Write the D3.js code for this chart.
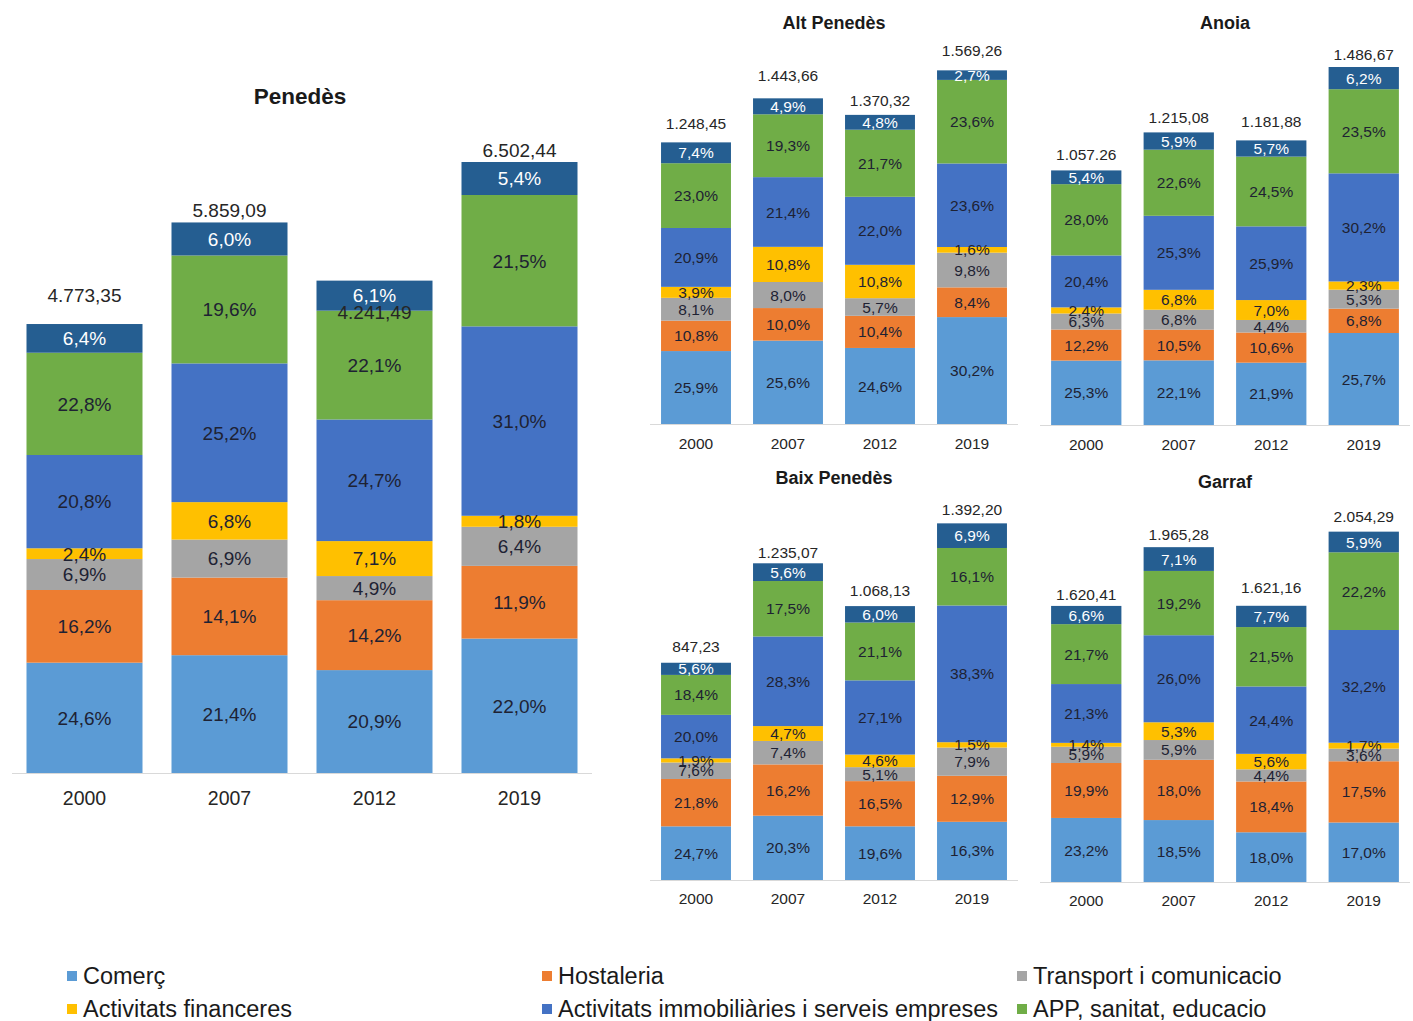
<!DOCTYPE html>
<html><head><meta charset="utf-8">
<script src="https://cdn.jsdelivr.net/npm/d3@7"></script>
<style>body{margin:0;background:#fff}svg{display:block}text{font-family:"Liberation Sans",Arial,sans-serif}</style>
</head><body>
<svg id="c" width="1413" height="1021"></svg>
<script>
const years = ["2000", "2007", "2012", "2019"];
const sectors = ["Comerç", "Hostaleria", "Transport i comunicacio", "Activitats financeres",
  "Activitats immobiliàries i serveis empreses", "APP, sanitat, educacio", "Altres"];
const sectorColors = ["#5b9bd5", "#ed7d31", "#a5a5a5", "#ffc000", "#4472c4", "#70ad47", "#255e91"];
const legendSectors = ["Comerç", "Hostaleria", "Transport i comunicacio", "Activitats financeres",
  "Activitats immobiliàries i serveis empreses", "APP, sanitat, educacio"];

// Penedès (percent per sector, bottom to top)
const penedesPct = [
  [24.6, 16.2, 6.9, 2.4, 20.8, 22.8, 6.4],
  [21.4, 14.1, 6.9, 6.8, 25.2, 19.6, 6.0],
  [20.9, 14.2, 4.9, 7.1, 24.7, 22.1, 6.1],
  [22.0, 11.9, 6.4, 1.8, 31.0, 21.5, 5.4]
];
const penedesTotals = [4773.35, 5859.09, 4241.49, 6502.44];
const penedesBarHeights = [4773.35, 5859.09, 5240, 6502.44]; // 2012 bar drawn taller than its label
const penedesLabels = ["4.773,35", "5.859,09", "4.241,49", "6.502,44"];

const altPct = [
  [25.9, 10.8, 8.1, 3.9, 20.9, 23.0, 7.4],
  [25.6, 10.0, 8.0, 10.8, 21.4, 19.3, 4.9],
  [24.6, 10.4, 5.7, 10.8, 22.0, 21.7, 4.8],
  [30.2, 8.4, 9.8, 1.6, 23.6, 23.6, 2.7]
];
const altTotals = [1248.45, 1443.66, 1370.32, 1569.26];
const altLabels = ["1.248,45", "1.443,66", "1.370,32", "1.569,26"];

const anoiaPct = [
  [25.3, 12.2, 6.3, 2.4, 20.4, 28.0, 5.4],
  [22.1, 10.5, 6.8, 6.8, 25.3, 22.6, 5.9],
  [21.9, 10.6, 4.4, 7.0, 25.9, 24.5, 5.7],
  [25.7, 6.8, 5.3, 2.3, 30.2, 23.5, 6.2]
];
const anoiaTotals = [1057.26, 1215.08, 1181.88, 1486.67];
const anoiaLabels = ["1.057.26", "1.215,08", "1.181,88", "1.486,67"];

const baixPct = [
  [24.7, 21.8, 7.6, 1.9, 20.0, 18.4, 5.6],
  [20.3, 16.2, 7.4, 4.7, 28.3, 17.5, 5.6],
  [19.6, 16.5, 5.1, 4.6, 27.1, 21.1, 6.0],
  [16.3, 12.9, 7.9, 1.5, 38.3, 16.1, 6.9]
];
const baixTotals = [847.23, 1235.07, 1068.13, 1392.20];
const baixLabels = ["847,23", "1.235,07", "1.068,13", "1.392,20"];

const garrafPct = [
  [23.2, 19.9, 5.9, 1.4, 21.3, 21.7, 6.6],
  [18.5, 18.0, 5.9, 5.3, 26.0, 19.2, 7.1],
  [18.0, 18.4, 4.4, 5.6, 24.4, 21.5, 7.7],
  [17.0, 17.5, 3.6, 1.7, 32.2, 22.2, 5.9]
];
const garrafTotals = [1620.41, 1965.28, 1621.16, 2054.29];
const garrafLabels = ["1.620,41", "1.965,28", "1.621,16", "2.054,29"];

const svg = d3.select("#c");
const fmtPct = v => v.toFixed(1).replace(".", ",") + "%";

function panel(o) {
  const g = svg.append("g");
  const x = d3.scaleBand().domain(years).range([o.x0, o.x1]).paddingInner(o.pin).paddingOuter(o.pout);
  const y = d3.scaleLinear().domain([0, o.refMax]).range([o.base, o.refTop]);
  const heights = o.bars || o.totals;
  years.forEach((yr, i) => {
    const tot = heights[i];
    let cum = 0;
    o.pct[i].forEach((p, s) => {
      const v0 = tot * cum / 100, v1 = tot * (cum + p) / 100;
      cum += p;
      const yTop = y(v1), yBot = y(v0);
      g.append("rect").attr("x", x(yr)).attr("width", x.bandwidth())
        .attr("y", yTop).attr("height", Math.max(0, yBot - yTop)).attr("fill", sectorColors[s]);
    });
    cum = 0;
    o.pct[i].forEach((p, s) => {
      const v0 = tot * cum / 100, v1 = tot * (cum + p) / 100;
      cum += p;
      g.append("text").attr("x", x(yr) + x.bandwidth() / 2).attr("y", (y(v0) + y(v1)) / 2)
        .attr("dy", "0.36em").attr("text-anchor", "middle")
        .attr("font-size", o.fs).attr("fill", s === 6 ? "#ffffff" : "#1e2233")
        .text(fmtPct(p));
    });
    // total label (center offset above bar top; negative = inside bar)
    const topY = y(tot);
    g.append("text").attr("x", x(yr) + x.bandwidth() / 2)
      .attr("y", topY - o.totOff[i]).attr("dy", "0.36em")
      .attr("text-anchor", "middle").attr("font-size", o.tfs).attr("fill", "#262626")
      .text(o.labels[i]);
    g.append("text").attr("x", x(yr) + x.bandwidth() / 2).attr("y", o.base + o.xDy)
      .attr("text-anchor", "middle").attr("font-size", o.xfs).attr("fill", "#262626").text(yr);
  });
  g.append("line").attr("x1", o.x0).attr("x2", o.x1).attr("y1", o.base + 0.5).attr("y2", o.base + 0.5)
    .attr("stroke", "#d9d9d9").attr("stroke-width", 1);
  g.append("text").attr("x", o.tx).attr("y", o.ty).attr("text-anchor", "middle")
    .attr("font-size", o.titleFs).attr("font-weight", "bold").attr("fill", "#1a1a1a").text(o.title);
}

panel({title: "Penedès", pct: penedesPct, totals: penedesTotals, bars: penedesBarHeights, labels: penedesLabels,
  x0: 12, x1: 592, pin: 0.2, pout: 0.1, base: 773, refMax: 6502.44, refTop: 162,
  fs: 19, tfs: 19, xfs: 19.5, titleFs: 22.5, totOff: [29, 12, -32, 12], xDy: 32, tx: 300, ty: 104});
panel({title: "Alt Penedès", pct: altPct, totals: altTotals, labels: altLabels,
  x0: 650, x1: 1018, pin: 0.24, pout: 0.12, base: 424, refMax: 1569.26, refTop: 70,
  fs: 15.5, tfs: 15.5, xfs: 15.5, titleFs: 18, totOff: [19, 23, 14, 20], xDy: 25, tx: 834, ty: 29});
panel({title: "Anoia", pct: anoiaPct, totals: anoiaTotals, labels: anoiaLabels,
  x0: 1040, x1: 1410, pin: 0.24, pout: 0.12, base: 425, refMax: 1486.67, refTop: 67,
  fs: 15.5, tfs: 15.5, xfs: 15.5, titleFs: 18, totOff: [16, 15, 19, 13], xDy: 25, tx: 1225, ty: 29});
panel({title: "Baix Penedès", pct: baixPct, totals: baixTotals, labels: baixLabels,
  x0: 650, x1: 1018, pin: 0.24, pout: 0.12, base: 880, refMax: 1392.20, refTop: 523,
  fs: 15.5, tfs: 15.5, xfs: 15.5, titleFs: 18, totOff: [16, 11, 16, 14], xDy: 24, tx: 834, ty: 484});
panel({title: "Garraf", pct: garrafPct, totals: garrafTotals, labels: garrafLabels,
  x0: 1040, x1: 1410, pin: 0.24, pout: 0.12, base: 882, refMax: 2054.29, refTop: 532,
  fs: 15.5, tfs: 15.5, xfs: 15.5, titleFs: 18, totOff: [12, 13, 18, 16], xDy: 24, tx: 1225, ty: 488});

// legend
const lg = svg.append("g");
const colX = [67, 542, 1017], rowY = [976, 1009];
legendSectors.forEach((name, i) => {
  const cx = colX[i % 3], cy = rowY[Math.floor(i / 3)];
  lg.append("rect").attr("x", cx).attr("y", cy - 5).attr("width", 10).attr("height", 10)
    .attr("fill", sectorColors[sectors.indexOf(name)]);
  lg.append("text").attr("x", cx + 16).attr("y", cy).attr("dy", "0.36em")
    .attr("font-size", 23.5).attr("fill", "#1a1a1a").text(name);
});
</script>
</body></html>
